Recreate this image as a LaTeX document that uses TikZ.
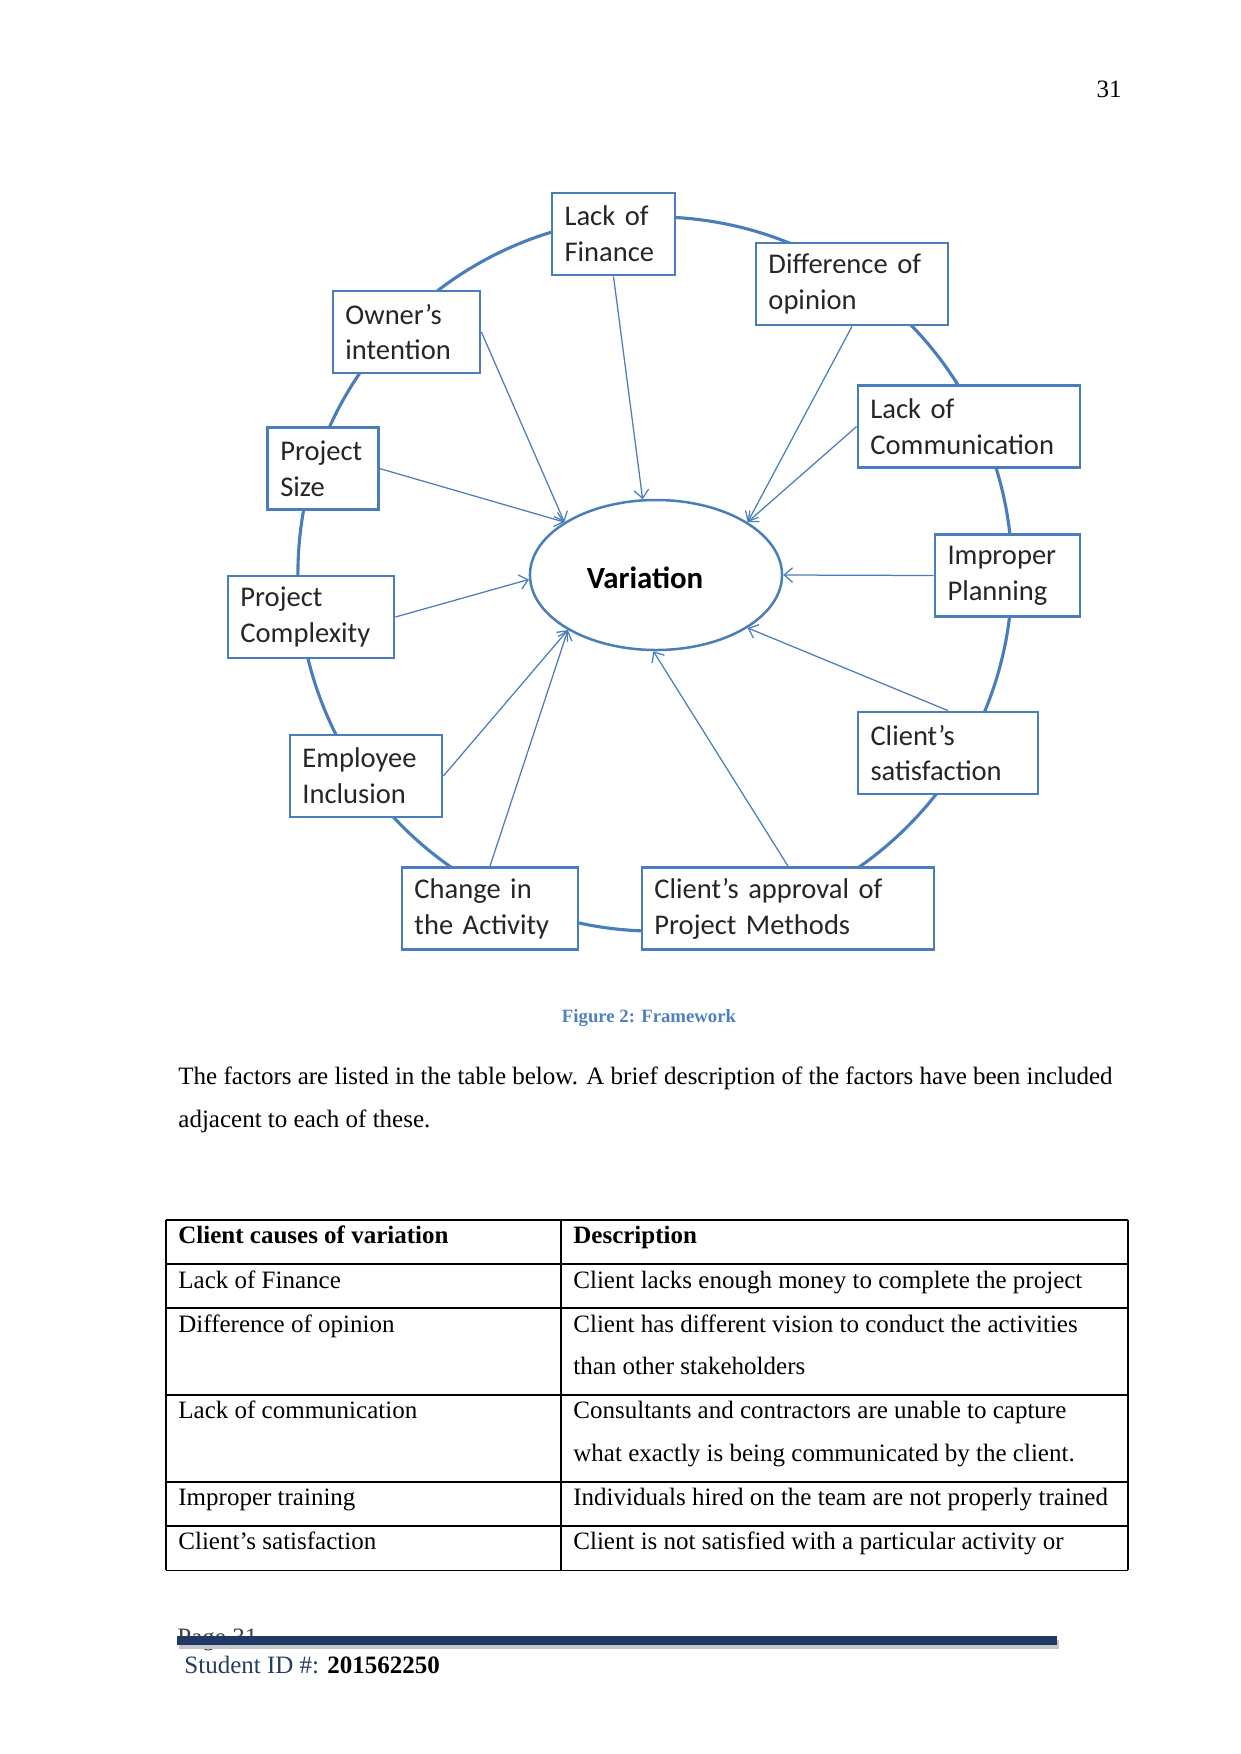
\documentclass[tikz,border=0pt]{standalone}
\usepackage{fontspec}
\setmainfont{Liberation Serif}
\newfontfamily\boxfont{Carlito}
\usetikzlibrary{arrows.meta,shapes.geometric}
\definecolor{boxblue}{RGB}{74,126,187}
\definecolor{capblue}{RGB}{79,129,189}
\definecolor{navybar}{RGB}{31,56,100}
\definecolor{idblue}{RGB}{40,60,95}
\definecolor{pagegray}{RGB}{60,60,75}
\begin{document}
\begin{tikzpicture}[x=0.48pt,y=-0.48pt,
  fbox/.style={draw=boxblue, line width=1.3pt, fill=white, inner xsep=6pt, inner ysep=0pt,
    align=left, font=\boxfont\fontsize{13.7}{17.2}\selectfont, text=black!85, minimum height=39.4pt},
  arr/.style={draw=boxblue, line width=0.6pt, -{Straight Barb[length=4pt,width=7pt]}},
  body/.style={font=\fontsize{12}{14}\selectfont, anchor=base west, inner sep=0pt},
  tline/.style={line width=0.5pt}]
\useasboundingbox (0,0) rectangle (1241,1754);

% page number
\node[font=\fontsize{12}{14}\selectfont, anchor=base east, inner sep=0pt] (pgnum) at (1122,97) {31};

% outer ring
\coordinate (ctr) at (655,574);
\draw[boxblue, line width=1.5pt] (ctr) circle[radius=171.4pt];

% centre ellipse
\node[ellipse, draw=boxblue, line width=1.2pt, fill=white, minimum width=121pt, minimum height=72pt,
  inner sep=0pt] (var) at (656,575) {};
\node[font=\boxfont\bfseries\fontsize{14.8}{17}\selectfont, inner sep=0pt] (vartext) at (645,578) {Variation};

% boxes
\node[fbox, text width=47.0pt] (lof) at (613.5,234) {Lack of\\Finance};
\node[fbox, text width=80.2pt] (doo) at (852,284) {Difference of\\opinion};
\node[fbox, text width=58.6pt] (oi) at (406.5,332) {Owner’s\\intention};
\node[fbox, text width=94.6pt] (loc) at (969,426.5) {Lack of\\Communication};
\node[fbox, text width=41.0pt] (ps) at (323,468.5) {Project\\Size};
\node[fbox, text width=57.6pt] (ip) at (1007.5,575.5) {Improper\\Planning};
\node[fbox, text width=67.7pt] (pc) at (311,617) {Project\\Complexity};
\node[fbox, text width=61.0pt] (ei) at (366,776) {Employee\\Inclusion};
\node[fbox, text width=74.4pt] (cs) at (948,753) {Client’s\\satisfaction};
\node[fbox, text width=72.5pt] (cia) at (490,908.5) {Change in\\the Activity};
\node[fbox, text width=128.2pt] (cap) at (788,908.5) {Client’s approval of\\Project Methods};

% arrows
\draw[arr] (lof.south) -- (var.100);
\draw[arr] (oi.east) -- (var.150);
\draw[arr] (ps.east) -- (var.150);
\draw[arr] (doo.south) -- (var.30);
\draw[arr] (loc.west) -- (var.30);
\draw[arr] (ip.west) -- (var.east);
\draw[arr] (pc.east) -- (var.182);
\draw[arr] (ei.east) -- (var.212);
\draw[arr] (cia.north) -- (var.212);
\draw[arr] (cap.north) -- (var.268);
\draw[arr] (cs.north) -- (var.330);

% caption
\node[font=\bfseries\fontsize{9}{11}\selectfont, text=capblue, anchor=base, inner sep=0pt] (figcap) at (649,1022) {Figure 2: Framework};

% body text
\node[body] (p1) at (178,1084) {The factors are listed in the table below. A brief description of the factors have been included};
\node[body] (p2) at (178,1127) {adjacent to each of these.};

% table
\draw[tline] (166,1220) -- (1128,1220);
\draw[tline] (166,1264) -- (1128,1264);
\draw[tline] (166,1308) -- (1128,1308);
\draw[tline] (166,1395) -- (1128,1395);
\draw[tline] (166,1482) -- (1128,1482);
\draw[line width=1.4pt] (166,1526) -- (1128,1526);
\draw[tline] (166,1570) -- (1128,1570);
\draw[tline] (166,1220) -- (166,1570);
\draw[tline] (561,1220) -- (561,1570);
\draw[tline] (1128,1220) -- (1128,1570);

\node[body, font=\bfseries\fontsize{12}{14}\selectfont] (h1) at (178,1243) {Client causes of variation};
\node[body, font=\bfseries\fontsize{12}{14}\selectfont] (h2) at (573,1243) {Description};
\node[body] (r1a) at (178,1288) {Lack of Finance};
\node[body] (r1b) at (573,1288) {Client lacks enough money to complete the project};
\node[body] (r2a) at (178,1332) {Difference of opinion};
\node[body] (r2b) at (573,1332) {Client has different vision to conduct the activities};
\node[body] (r2c) at (573,1374) {than other stakeholders};
\node[body] (r3a) at (178,1418) {Lack of communication};
\node[body] (r3b) at (573,1418) {Consultants and contractors are unable to capture};
\node[body] (r3c) at (573,1461) {what exactly is being communicated by the client.};
\node[body] (r4a) at (178,1505) {Improper training};
\node[body] (r4b) at (573,1505) {Individuals hired on the team are not properly trained};
\node[body] (r5a) at (178,1549) {Client’s satisfaction};
\node[body] (r5b) at (573,1549) {Client is not satisfied with a particular activity or};

% footer
\node[body, text=pagegray] (pg) at (177,1645) {Page 31};
\fill[black!22] (179,1640) rectangle (1059,1649);
\fill[navybar] (177,1636) rectangle (1057,1645);
\node[body] (sid) at (184,1673) {\textcolor{idblue}{Student ID \#: }\textbf{201562250}};
\end{tikzpicture}
\end{document}
